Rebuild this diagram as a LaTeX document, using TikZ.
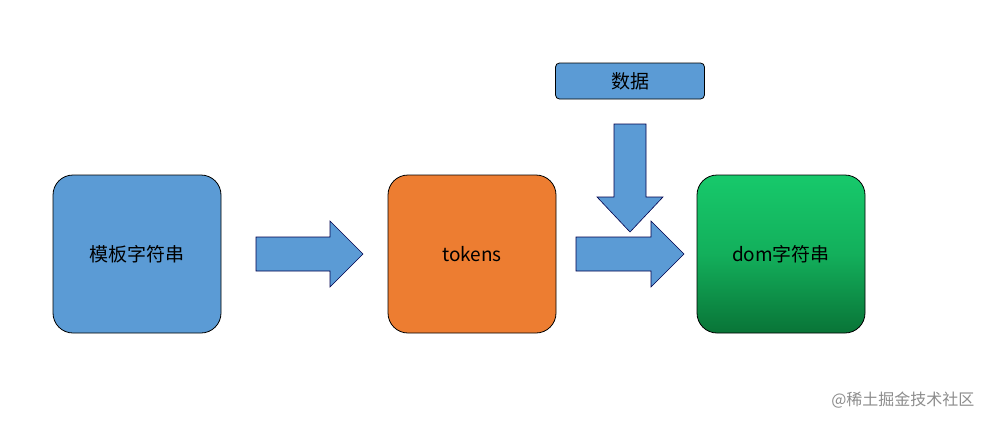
\documentclass[tikz,border=0pt]{standalone}
\usepackage{fontspec}
\setmainfont{Noto Sans CJK SC}
\begin{document}
\begin{tikzpicture}[x=1pt,y=-1pt,
  box/.style={draw=black,line width=0.8pt,rounded corners=20pt,minimum width=168pt,minimum height=158pt,font=\fontsize{19}{22}\selectfont,inner sep=0},
  arr/.style={draw=black!70!blue,line width=0.6pt,fill=blue1}]
\definecolor{blue1}{HTML}{5B9BD5}
\definecolor{orange1}{HTML}{ED7D31}
\definecolor{gtop}{HTML}{17C96B}
\definecolor{gbot}{HTML}{097437}
\useasboundingbox (0,0) rectangle (993,426);
\node[box,fill=blue1] (a) at (137,254) {模板字符串};
\node[box,fill=orange1] (b) at (472,254) {tokens};
\node[box,top color=gtop,bottom color=gbot,middle color=gtop!70!gbot] (c) at (781,254) {dom字符串};
\node[draw=black,line width=0.8pt,rounded corners=4pt,fill=blue1,minimum width=149pt,minimum height=36pt,font=\fontsize{19}{22}\selectfont,inner sep=0] (d) at (630,81) {数据};
\draw[arr] (256,237) -- (330,237) -- (330,221) -- (363,254) -- (330,287) -- (330,271) -- (256,271) -- cycle;
\draw[arr] (576,237) -- (651,237) -- (651,221) -- (684,254) -- (651,287) -- (651,271) -- (576,271) -- cycle;
\draw[arr] (614,124) -- (646,124) -- (646,197) -- (663,197) -- (630,232) -- (597,197) -- (614,197) -- cycle;
\node[anchor=east,text=black!45,font=\fontsize{16}{18}\selectfont] (w) at (978,400) {@稀土掘金技术社区};
\end{tikzpicture}
\end{document}
